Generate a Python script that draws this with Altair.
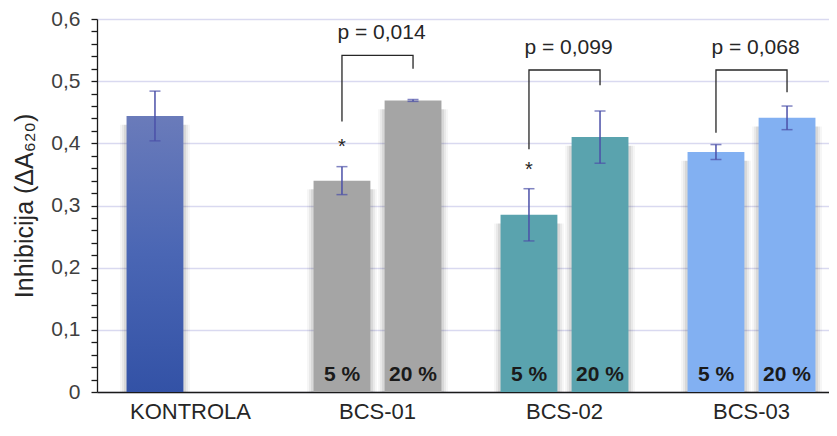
import altair as alt
import pandas as pd

# ---- data ----
groups = ["KONTROLA", "BCS-01", "BCS-01", "BCS-02", "BCS-02", "BCS-03", "BCS-03"]
slots = ["a", "a", "b", "a", "b", "a", "b"]
values = [0.444, 0.340, 0.469, 0.285, 0.410, 0.386, 0.441]
errors = [0.040, 0.0225, 0.0015, 0.042, 0.042, 0.012, 0.019]
conc_labels = ["", "5 %", "20 %", "5 %", "20 %", "5 %", "20 %"]

group_order = ["KONTROLA", "BCS-01", "BCS-02", "BCS-03"]
group_colors = ["#4a64b2", "#a5a5a5", "#5aa3ae", "#82b0f2"]

p_groups = ["BCS-01", "BCS-02", "BCS-03"]
p_texts = ["p = 0,014", "p = 0,099", "p = 0,068"]
p_y = [0.577, 0.554, 0.554]

bracket_top = [0.5415, 0.518, 0.518]
bracket_left_end = [0.435, 0.3905, 0.417]
bracket_right_end = [0.520, 0.4935, 0.482]

star_groups = ["BCS-01", "BCS-02"]
star_y = [0.404, 0.367]

y_tick_values = [round(i * 0.02, 2) for i in range(31)]

FONT = "Liberation Sans"

bars = pd.DataFrame({
    "group": groups, "slot": slots, "value": values, "err": errors,
    "label": conc_labels,
})
bars["lo"] = bars["value"] - bars["err"]
bars["hi"] = bars["value"] + bars["err"]
bars["base"] = 0.0
bars["shadow_top"] = bars["value"] - 0.014

rows = []
for i, g in enumerate(p_groups):
    rows.append({"id": g, "group": g, "slot": "a", "y": bracket_left_end[i], "o": 0})
    rows.append({"id": g, "group": g, "slot": "a", "y": bracket_top[i], "o": 1})
    rows.append({"id": g, "group": g, "slot": "b", "y": bracket_top[i], "o": 2})
    rows.append({"id": g, "group": g, "slot": "b", "y": bracket_right_end[i], "o": 3})
brackets = pd.DataFrame(rows)

ptext = pd.DataFrame({"group": p_groups, "text": p_texts, "y": p_y})
stars = pd.DataFrame({"group": star_groups, "slot": ["a"] * len(star_groups), "y": star_y, "t": ["*"] * len(star_groups)})

is_major = "round(datum.value*100) % 10 == 0"

x_enc = alt.X(
    "group:N", sort=group_order,
    scale=alt.Scale(domain=group_order, range=[0, 748], paddingInner=0.24, paddingOuter=0.12),
    axis=alt.Axis(title=None, labelFontSize=22, labelColor="#262626", labelFont=FONT,
                  labelPadding=9, ticks=False, domainColor="#1a1a1a", domainWidth=1.5,
                  labelAngle=0),
)
xo_enc = alt.XOffset("slot:N", scale=alt.Scale(domain=["a", "b"], paddingInner=0.2, paddingOuter=0.1))

y_scale = alt.Scale(domain=[0, 0.6], nice=False, zero=True)
y_axis = alt.Axis(
    title="Inhibicija (ΔA₆₂₀)", titleFont=FONT, titleFontSize=25, titleFontWeight="normal",
    titleColor="#262626", titlePadding=13,
    values=y_tick_values, labelOverlap=False,
    labelExpr=f"{is_major} ? (datum.value == 0 ? '0' : replace(format(datum.value, '.1f'), '.', ',')) : ''",
    labelFont=FONT, labelFontSize=21, labelColor="#404040", labelPadding=11,
    tickSize=6, tickColor="#1a1a1a", tickWidth=1.3, domainColor="#1a1a1a", domainWidth=1.3,
    grid=True,
    gridColor={"condition": {"test": is_major, "value": "#d9d9f0"}, "value": "transparent"},
    gridWidth=1.3,
)


def Y(field):
    return alt.Y(field, scale=y_scale, axis=y_axis)


base = alt.Chart(bars)

shadows = [
    base.mark_bar(color="#000000", opacity=op, width=w).encode(
        x=x_enc, xOffset=xo_enc, y=Y("shadow_top:Q"))
    for w, op in [(70, 0.035), (66, 0.05), (62, 0.07)]
]

bar_layer = base.transform_filter("datum.group != 'KONTROLA'").mark_bar().encode(
    x=x_enc, xOffset=xo_enc,
    y=Y("value:Q"),
    color=alt.Color("group:N", scale=alt.Scale(domain=group_order, range=group_colors), legend=None),
)

ctrl_layer = base.transform_filter("datum.group == 'KONTROLA'").mark_bar(
    color=alt.Gradient(
        gradient="linear",
        stops=[alt.GradientStop(color="#6a7bba", offset=0),
               alt.GradientStop(color="#4a66b4", offset=0.5),
               alt.GradientStop(color="#3352a6", offset=1)],
        x1=0, x2=0, y1=0, y2=1,
    )
).encode(x=x_enc, xOffset=xo_enc, y=Y("value:Q"))

err_color = "#4b50a8"
err_rule = base.mark_rule(color=err_color, strokeWidth=1.5).encode(
    x=x_enc, xOffset=xo_enc, y=Y("lo:Q"), y2="hi:Q")
err_lo = base.mark_tick(color=err_color, size=11, thickness=1.5).encode(
    x=x_enc, xOffset=xo_enc, y=Y("lo:Q"))
err_hi = base.mark_tick(color=err_color, size=11, thickness=1.5).encode(
    x=x_enc, xOffset=xo_enc, y=Y("hi:Q"))

label_layer = base.mark_text(font=FONT, fontSize=21, fontWeight="bold", color="#1a1a1a",
                             baseline="bottom", dy=-7).encode(
    x=x_enc, xOffset=xo_enc, y=Y("base:Q"), text="label:N")

bracket_layer = alt.Chart(brackets).mark_line(color="#262626", strokeWidth=1.3).encode(
    x=x_enc, xOffset=xo_enc, y=Y("y:Q"), detail="id:N", order="o:Q")

p_layer = alt.Chart(ptext).mark_text(font=FONT, fontSize=21, color="#262626", dx=4).encode(
    x=x_enc, y=Y("y:Q"), text="text:N")

star_layer = alt.Chart(stars).mark_text(font=FONT, fontSize=20, color="#262626", dy=6).encode(
    x=x_enc, xOffset=xo_enc, y=Y("y:Q"), text="t:N")

chart = alt.layer(
    *shadows, bar_layer, ctrl_layer, err_rule, err_lo, err_hi, label_layer,
    bracket_layer, p_layer, star_layer
).properties(
    width=732, height=373,
    autosize=alt.AutoSizeParams(type="none"),
    padding={"left": 89, "top": 11, "right": 0, "bottom": 32},
).configure_view(stroke=None).configure(background="white")

chart.save("out.html", embed_options={"renderer": "svg", "actions": False})
